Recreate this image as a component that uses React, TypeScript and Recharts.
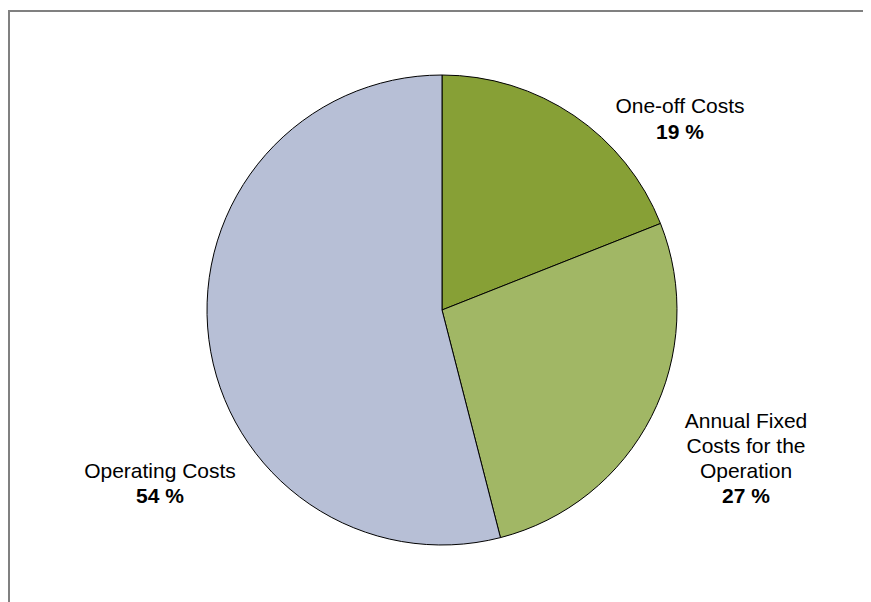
import { PieChart, Pie, Cell } from 'recharts';

const categories = ['One-off Costs', 'Annual Fixed Costs for the Operation', 'Operating Costs'];
const shares = [19, 27, 54];
const colors = ['#87a036', '#a1b765', '#b7bfd6'];
// label text lines per slice (wrapped as in the original)
const labelLines = [['One-off Costs'], ['Annual Fixed', 'Costs for the', 'Operation'], ['Operating Costs']];
// label anchor offsets from the pie centre
const labelOffsets = [
    { dx: 238, dy: -197, gap: 26 },
    { dx: 304, dy: 118, gap: 25 },
    { dx: -282, dy: 168, gap: 25 },
];

const data = categories.map((name, i) => ({ name, value: shares[i] }));

const renderLabel = (props: any) => {
    const { cx, cy, index, value } = props;
    const off = labelOffsets[index];
    const lines = labelLines[index];
    const x = cx + off.dx;
    const y = cy + off.dy;
    return (
        <text x={x} y={y} textAnchor="middle" fill="#000" fontSize={21} fontFamily="'Liberation Sans', Arial, sans-serif">
            {lines.map((l, j) => (
                <tspan key={j} x={x} dy={j === 0 ? 0 : off.gap}>{l}</tspan>
            ))}
            <tspan x={x} dy={off.gap} fontWeight="bold">{value} %</tspan>
        </text>
    );
};

const App = () => {
    return (
        <div style={{ position: 'relative', width: 863, height: 594 }}>
            <div style={{ position: 'absolute', left: 0, top: 2, right: 0, bottom: 0, borderTop: '2px solid #808080', borderLeft: '2px solid #808080' }} />
            <div style={{ position: 'absolute', left: 0, top: 0 }}>
                <PieChart width={863} height={594} margin={{ top: 0, right: 0, bottom: 0, left: 0 }}>
                    <Pie
                        data={data}
                        dataKey="value"
                        cx={434}
                        cy={302}
                        outerRadius={235}
                        startAngle={90}
                        endAngle={-270}
                        stroke="#000"
                        strokeWidth={1}
                        label={renderLabel}
                        labelLine={false}
                        isAnimationActive={false}
                    >
                        {data.map((d, i) => (
                            <Cell key={d.name} fill={colors[i]} />
                        ))}
                    </Pie>
                </PieChart>
            </div>
        </div>
    );
};

export default App;
